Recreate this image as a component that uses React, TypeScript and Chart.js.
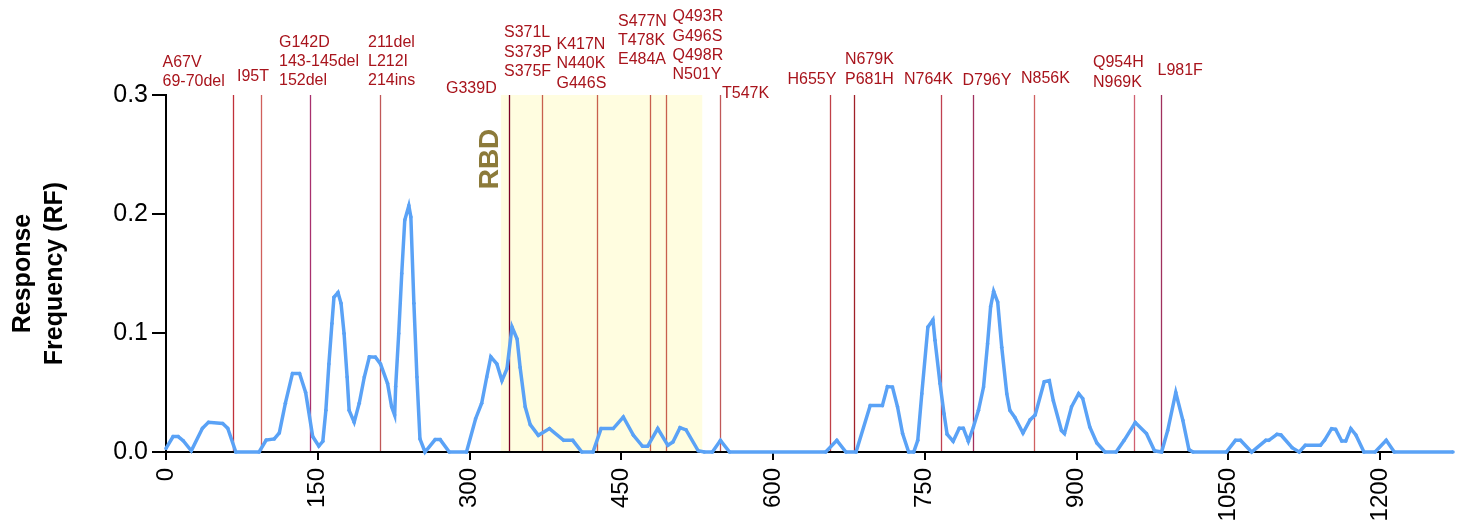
import React, { useEffect, useRef } from 'react';
import { Chart, registerables } from 'chart.js';

Chart.register(...registerables);

// ---- data ----
const residues = [
  0, 7, 12, 17, 25, 36, 42, 56, 61, 69, 92, 99, 107, 112, 118, 125, 132, 138, 145, 151,
  155, 158, 161, 164, 166, 170, 173, 176, 179, 181, 186, 191, 196, 201, 207, 212, 219, 223, 226, 227,
  230, 233, 236, 240, 242, 245, 248, 251, 256, 266, 271, 280, 297, 306, 312, 317, 321, 327, 332, 337,
  342, 347, 350, 355, 360, 368, 379, 393, 402, 411, 422, 430, 442, 452, 462, 471, 476, 486, 496, 501,
  508, 514, 526, 532, 540, 548, 557, 652, 663, 672, 682, 696, 708, 713, 718, 723, 728, 734, 739, 743,
  747, 753, 758, 760, 765, 769, 772, 778, 784, 788, 793, 798, 803, 808, 812, 815, 818, 822, 826, 831,
  834, 839, 847, 854, 859, 868, 873, 877, 885, 888, 895, 902, 906, 913, 920, 928, 939, 947, 958, 969,
  977, 984, 990, 998, 1005, 1011, 1015, 1048, 1057, 1062, 1073, 1087, 1090, 1098, 1102, 1113, 1120, 1126, 1141, 1145,
  1152, 1156, 1162, 1166, 1171, 1176, 1184, 1195, 1206, 1214, 1272,
];
const rfValues = [
  0.003, 0.013, 0.013, 0.0095, 0.001, 0.02, 0.025, 0.024, 0.02, 0, 0, 0.01, 0.011, 0.016, 0.041, 0.066, 0.066, 0.05, 0.013, 0.005,
  0.009, 0.035, 0.074, 0.108, 0.13, 0.134, 0.125, 0.0995, 0.063, 0.035, 0.025, 0.041, 0.063, 0.08, 0.0797, 0.074, 0.0575, 0.038, 0.031, 0.055,
  0.0995, 0.15, 0.195, 0.207, 0.1975, 0.125, 0.063, 0.011, 0, 0.0104, 0.0104, 0, 0, 0.028, 0.041, 0.063, 0.08, 0.074, 0.06, 0.07,
  0.105, 0.095, 0.071, 0.038, 0.023, 0.014, 0.0197, 0.0098, 0.0098, 0, 0, 0.0197, 0.0197, 0.0294, 0.014, 0.0048, 0.0048, 0.0197, 0.0056, 0.0084,
  0.0205, 0.0186, 0.001, 0, 0, 0.0098, 0, 0, 0.0098, 0, 0, 0.039, 0.039, 0.055, 0.0546, 0.038, 0.0155, 0, 0, 0.0098,
  0.049, 0.105, 0.111, 0.094, 0.0575, 0.032, 0.015, 0.009, 0.02, 0.02, 0.009, 0.021, 0.035, 0.0546, 0.091, 0.122, 0.135, 0.126, 0.088, 0.049,
  0.035, 0.029, 0.016, 0.027, 0.031, 0.059, 0.06, 0.043, 0.018, 0.0155, 0.038, 0.049, 0.045, 0.021, 0.0076, 0, 0, 0.0098, 0.0247, 0.0155,
  0.001, 0, 0.018, 0.05, 0.0266, 0.002, 0, 0, 0.0098, 0.0098, 0, 0.0098, 0.0098, 0.0149, 0.0143, 0.0036, 0, 0.0056, 0.0056, 0.0098,
  0.0196, 0.019, 0.0092, 0.0092, 0.0196, 0.0143, 0, 0, 0.0098, 0, 0,
];
const xTickValues = [0, 150, 300, 450, 600, 750, 900, 1050, 1200];
const yTickValues = [0, 0.1, 0.2, 0.3];
const xMax = 1272;
const yMax = 0.3;

const rbdRange = [331, 530];
const rbdLabel = 'RBD';
const yTitleLines = ['Response', 'Frequency (RF)'];

const mutationSites = [66.5, 94, 142.3, 211.3, 339.3, 371.8, 426, 478.2, 494, 548, 656.5, 680, 766, 798, 858, 956.6, 983.6];
const mutationLabels = [
  ['A67V', '69-70del'],
  ['I95T'],
  ['G142D', '143-145del', '152del'],
  ['211del', 'L212I', '214ins'],
  ['G339D'],
  ['S371L', 'S373P', 'S375F'],
  ['K417N', 'N440K', 'G446S'],
  ['S477N', 'T478K', 'E484A'],
  ['Q493R', 'G496S', 'Q498R', 'N501Y'],
  ['T547K'],
  ['H655Y'],
  ['N679K', 'P681H'],
  ['N764K'],
  ['D796Y'],
  ['N856K'],
  ['Q954H', 'N969K'],
  ['L981F'],
];

// ---- layout / style (kept apart from the data) ----
const labelLeftPx = [162.5, 237, 279, 368, 446, 504, 556.5, 618, 672.5, 722, 787.5, 845, 904, 962.5, 1021, 1093, 1157.5];
const labelLastLineY = [81.7, 76.7, 81, 81, 88.3, 71.7, 83.3, 60, 75, 93.3, 80, 79.3, 80, 81, 79, 82.3, 71];
const siteColors = [
  '#C0303A', '#D0605C', '#A8306E', '#C05858', '#7A0025', '#C8604E', '#C8604E', '#C8604E', '#C8604E',
  '#C05858', '#C04048', '#A02028', '#C04050', '#A0305E', '#D06060', '#D06070', '#A0305E',
];
const FONT = '"Liberation Sans", Arial, Helvetica, sans-serif';
const labelColor = '#A8141C';
const lineColor = '#5AA2F6';

const annotate = {
  id: 'annotate',
  beforeDraw(chart: any) {
    const { ctx, chartArea, scales } = chart;
    const x = scales.x;
    ctx.save();
    const x0 = x.getPixelForValue(rbdRange[0]);
    const x1 = x.getPixelForValue(rbdRange[1]);
    ctx.fillStyle = '#FFFDE0';
    ctx.fillRect(x0, chartArea.top, x1 - x0, chartArea.bottom - chartArea.top);
    mutationSites.forEach((s, i) => {
      const px = Math.round(x.getPixelForValue(s)) + 0.5;
      ctx.strokeStyle = siteColors[i];
      ctx.lineWidth = 1.3;
      ctx.beginPath();
      ctx.moveTo(px, chartArea.top);
      ctx.lineTo(px, chartArea.bottom);
      ctx.stroke();
    });
    ctx.translate(x0 - 11, chartArea.top + 64);
    ctx.rotate(-Math.PI / 2);
    ctx.font = `bold 28px ${FONT}`;
    ctx.fillStyle = '#8C7A3A';
    ctx.textAlign = 'center';
    ctx.textBaseline = 'middle';
    ctx.fillText(rbdLabel, 0, 0);
    ctx.restore();
  },
  afterDraw(chart: any) {
    const { ctx, chartArea } = chart;
    ctx.save();
    ctx.font = `16px ${FONT}`;
    ctx.fillStyle = labelColor;
    ctx.textAlign = 'left';
    ctx.textBaseline = 'middle';
    const lh = 19.4;
    mutationLabels.forEach((lines, i) => {
      const n = lines.length;
      lines.forEach((t, j) => {
        ctx.fillText(t, labelLeftPx[i], labelLastLineY[i] - (n - 1 - j) * lh);
      });
    });
    // y axis title
    const cy = (chartArea.top + chartArea.bottom) / 2 + 0;
    ctx.font = `bold 25px ${FONT}`;
    ctx.fillStyle = '#000';
    ctx.textAlign = 'center';
    const xs = [23.5, 55.5];
    yTitleLines.forEach((t, i) => {
      ctx.save();
      ctx.translate(xs[i], cy);
      ctx.rotate(-Math.PI / 2);
      ctx.fillText(t, 0, 0);
      ctx.restore();
    });
    ctx.restore();
  },
};

export default function App() {
  const ref = useRef<HTMLCanvasElement | null>(null);
  useEffect(() => {
    document.body.style.margin = '0';
    const canvas = ref.current;
    if (!canvas) return;
    const chart = new Chart(canvas, {
      type: 'line',
      data: {
        datasets: [
          {
            data: residues.map((r, i) => ({ x: r, y: rfValues[i] })),
            borderColor: lineColor,
            backgroundColor: lineColor,
            borderWidth: 3.5,
            pointRadius: 1.8,
            pointBorderWidth: 0,
            tension: 0,
            clip: 6,
          } as any,
        ],
      },
      options: {
        animation: false,
        responsive: false,
        devicePixelRatio: 1,
        layout: { padding: { top: 95, right: 0, bottom: 0, left: 0 } },
        plugins: { legend: { display: false }, tooltip: { enabled: false }, title: { display: false } },
        scales: {
          x: {
            type: 'linear',
            min: 0,
            max: xMax,
            afterFit: (s: any) => {
              s.height = 74;
            },
            afterBuildTicks: (s: any) => {
              s.ticks = xTickValues.map((v) => ({ value: v }));
            },
            border: { display: true, color: '#000', width: 2 },
            grid: { drawOnChartArea: false, drawTicks: true, tickLength: 8, color: '#000', lineWidth: 2 },
            ticks: {
              color: '#000',
              font: { family: FONT, size: 24 },
              minRotation: 90,
              maxRotation: 90,
              padding: 8,
              autoSkip: false,
              callback: (v: any) => String(v),
            },
          },
          y: {
            type: 'linear',
            min: 0,
            max: yMax,
            afterFit: (s: any) => {
              s.width = 166;
            },
            afterBuildTicks: (s: any) => {
              s.ticks = yTickValues.map((v) => ({ value: v }));
            },
            border: { display: true, color: '#000', width: 2 },
            grid: { drawOnChartArea: false, drawTicks: true, tickLength: 14, color: '#000', lineWidth: 2 },
            ticks: {
              color: '#000',
              font: { family: FONT, size: 25 },
              padding: 4,
              callback: (v: any) => Number(v).toFixed(1),
            },
          },
        },
      },
      plugins: [annotate],
    });
    return () => chart.destroy();
  }, []);
  return <canvas ref={ref} width={1457} height={526} style={{ display: 'block', width: 1457, height: 526 }} />;
}
